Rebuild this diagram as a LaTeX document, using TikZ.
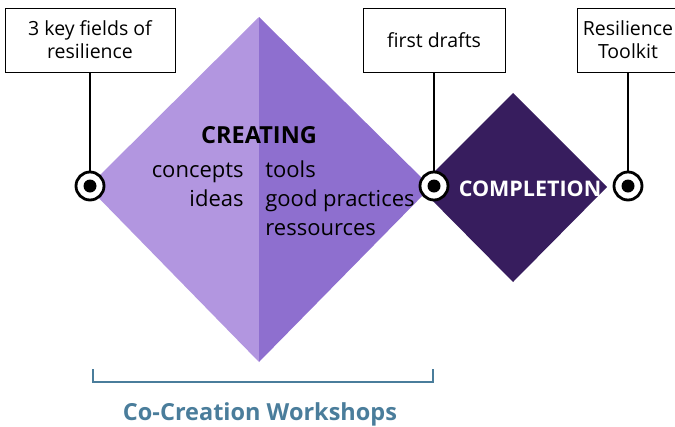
\documentclass[tikz,border=0pt]{standalone}
\usepackage{fontspec}
\setmainfont{Open Sans}
\usepackage{xcolor}
\usetikzlibrary{positioning}

\definecolor{lightlilac}{HTML}{B296E0}
\definecolor{midlilac}{HTML}{8E6FCF}
\definecolor{darkplum}{HTML}{371D5E}
\definecolor{steelblue}{HTML}{4A7D9B}

\begin{document}
\begin{tikzpicture}[x=1pt, y=-1pt, thick]

    % Define styles for the different parts
    \tikzstyle{label} = [draw, rectangle, line width=1pt, fill=white, minimum height=64pt, inner sep=2pt, align=center, font=\fontsize{19.5}{23}\selectfont]
    \tikzstyle{marker} = [draw, circle, line width=2.8pt, fill=white, minimum size=28pt, inner sep=0pt,
        path picture={\fill[black] (path picture bounding box.center) circle (6.5pt);}]
    \tikzstyle{stem} = [line width=2.4pt, black]
    \tikzstyle{words} = [font=\fontsize{22}{29}\selectfont, inner sep=0pt]
    \tikzstyle{heading} = [inner sep=0pt, font=\fontsize{23.5}{28}\selectfont\bfseries]

    \useasboundingbox (0,0) rectangle (675,426);

    % diamonds
    \coordinate (ctop) at (259,17);
    \coordinate (cbottom) at (259,362);
    \coordinate (cleft) at (88,187);
    \coordinate (cright) at (431,187);
    \fill[lightlilac] (ctop) -- (cleft) -- (cbottom) -- cycle;
    \fill[midlilac] (ctop) -- (cright) -- (cbottom) -- cycle;
    \fill[darkplum] (513,93) -- (607,187) -- (513,282) -- (419,187) -- cycle;

    % texts
    \node (creating) [heading, anchor=base] at (259,143) {CREATING};
    \node (concepts) [words, anchor=base east] at (244,177) {concepts};
    \node (ideas) [words, anchor=base east] at (244,206) {ideas};
    \node (tools) [words, anchor=base west] at (265,177) {tools};
    \node (practices) [words, anchor=base west] at (265,206) {good practices};
    \node (ressources) [words, anchor=base west] at (265,235) {ressources};
    \node (completion) [heading, text=white, anchor=base, font=\fontsize{21.5}{26}\selectfont\bfseries] at (530,196) {COMPLETION};

    % boxes and markers
    \node (fields) [label, minimum width=170pt] at (90,40) {3 key fields of\\resilience};
    \node (drafts) [label, minimum width=142pt] at (434,40) {first drafts};
    \node (toolkit) [label, minimum width=102pt] at (628,40) {Resilience\\Toolkit};

    \node (start) [marker] at (90,186) {};
    \node (mid) [marker] at (434,186) {};
    \node (end) [marker] at (628,186) {};

    \draw[stem] (fields) -- (start);
    \draw[stem] (drafts) -- (mid);
    \draw[stem] (toolkit) -- (end);

    % bracket
    \coordinate (bl) at (93,369);
    \coordinate (br) at (433,369);
    \draw[steelblue, line width=2.2pt] (bl) -- ++(0,13) -| (br);
    \node (workshops) [heading, text=steelblue, anchor=base] at (260,420) {Co-Creation Workshops};

\end{tikzpicture}
\end{document}
